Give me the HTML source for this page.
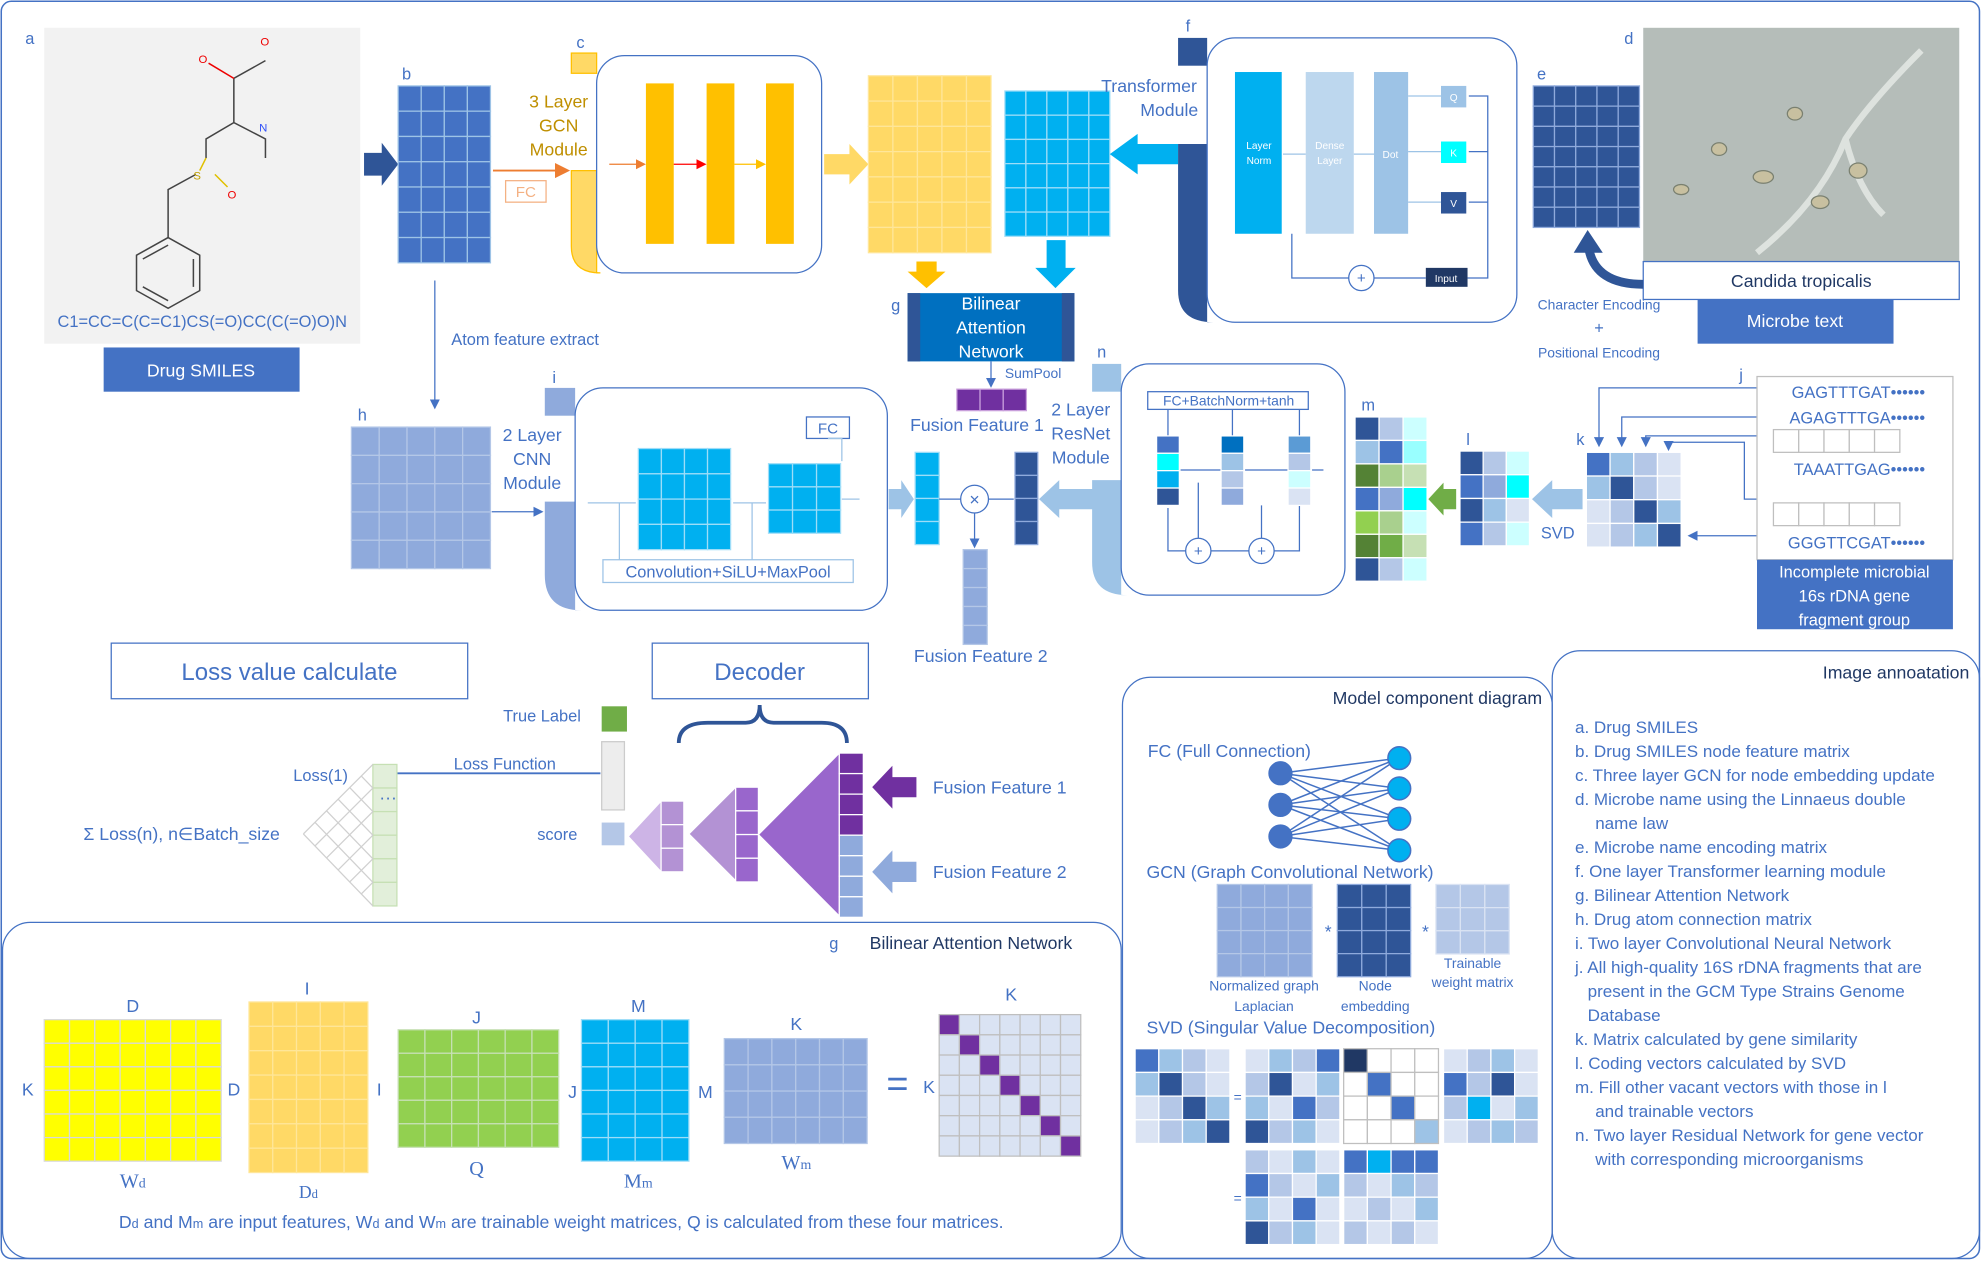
<!DOCTYPE html>
<html><head><meta charset="utf-8"><style>
html,body{margin:0;padding:0;background:#fff}
svg{display:block;font-family:"Liberation Sans",sans-serif}
text{fill:#4472c4}
</style></head><body>
<svg id="s" width="1982" height="1261" viewBox="0 0 1568 998" preserveAspectRatio="none" xmlns="http://www.w3.org/2000/svg">
<defs>
<marker id="ab" markerWidth="8" markerHeight="8" refX="6" refY="4" orient="auto"><path d="M0,0 L8,4 L0,8z" fill="#4472c4"/></marker>
<marker id="ao" markerWidth="8" markerHeight="8" refX="6" refY="4" orient="auto"><path d="M0,0 L8,4 L0,8z" fill="#ed7d31"/></marker>
<marker id="ar" markerWidth="8" markerHeight="8" refX="6" refY="4" orient="auto"><path d="M0,0 L8,4 L0,8z" fill="#ff0000"/></marker>
<marker id="ay" markerWidth="8" markerHeight="8" refX="6" refY="4" orient="auto"><path d="M0,0 L8,4 L0,8z" fill="#ffc000"/></marker>
</defs>
<rect x="1" y="1" width="1565" height="995" rx="8" fill="none" stroke="#4472c4" stroke-width="1.2"/>

<!-- panel a -->
<g>
<rect x="35" y="22" width="250" height="250" fill="#f2f2f2"/>
<g stroke="#444" stroke-width="1.2" fill="none">
<path d="M133,188 L158,202 L158,230 L133,244 L108,230 L108,202 Z M113,205 L133,194 M153,205 L153,227 M113,227 L133,238"/>
<path d="M133,188 L133,150 L155,138"/>
<path d="M163,125 L163,110 L185,97 L210,110 L210,125 M185,97 L185,62 L210,48"/>
<path d="M163,125 L158,135" stroke="#e0c000"/><path d="M170,138 L180,148" stroke="#e0c000"/><path d="M185,62 L165,50" stroke="#e00"/>
</g>
<text x="157" y="50" font-size="9" fill="#e00" style="fill:#e00">O</text><text x="206" y="36" font-size="9" style="fill:#e00">O</text>
<text x="205" y="104" font-size="9" style="fill:#3050f8">N</text><text x="153" y="142" font-size="9" style="fill:#c0a000">S</text>
<text x="180" y="157" font-size="9" style="fill:#e00">O</text>
<text x="160" y="259" font-size="13" text-anchor="middle">C1=CC=C(C=C1)CS(=O)CC(C(=O)O)N</text>
</g>
<rect x="82" y="275" width="155" height="35" fill="#4472c4"/>
<text x="159" y="298" font-size="14" text-anchor="middle" style="fill:#fff">Drug SMILES</text>

<g font-size="13">
<text x="20" y="35">a</text><text x="318" y="63">b</text><text x="456" y="38">c</text><text x="938" y="25">f</text>
<text x="1285" y="35">d</text><text x="1216" y="63">e</text><text x="705" y="246">g</text><text x="868" y="283">n</text>
<text x="437" y="303">i</text><text x="283" y="333">h</text><text x="1376" y="301">j</text><text x="1247" y="352">k</text>
<text x="1160" y="352">l</text><text x="1077" y="325">m</text>
</g>

<path d="M288,121 L302,121 L302,113 L315,130 L302,147 L302,139 L288,139z" fill="#2f5597"/>
<g id="gb"></g>
<line x1="390" y1="135" x2="448" y2="135" stroke="#ed7d31" stroke-width="1.5" marker-end="url(#ao)"/>
<rect x="400" y="143" width="32" height="17" fill="#fff" stroke="#f4b183"/>
<text x="416" y="156" font-size="12" text-anchor="middle" style="fill:#f4b183">FC</text>
<g>
<path d="M452,135 L472,135 L472,216 L475,216 Q452,216 452,195z" fill="#ffd966" stroke="#ffc000"/>
<rect x="452" y="42" width="20" height="16" fill="#ffd966" stroke="#ffc000"/>
<rect x="472" y="44" width="178" height="172" rx="22" fill="#fff" stroke="#4472c4"/>
<rect x="511" y="66" width="22" height="127" fill="#ffc000"/><rect x="559" y="66" width="22" height="127" fill="#ffc000"/><rect x="606" y="66" width="22" height="127" fill="#ffc000"/>
<line x1="482" y1="130" x2="509" y2="130" stroke="#ed7d31" marker-end="url(#ao)"/>
<line x1="533" y1="130" x2="557" y2="130" stroke="#ff0000" marker-end="url(#ar)"/>
<line x1="581" y1="130" x2="604" y2="130" stroke="#ffc000" marker-end="url(#ay)"/>
</g>
<g font-size="14" text-anchor="middle"><text x="442" y="85" style="fill:#bf8f00">3 Layer</text><text x="442" y="104" style="fill:#bf8f00">GCN</text><text x="442" y="123" style="fill:#bf8f00">Module</text></g>
<path d="M652,122 L672,122 L672,114 L687,130 L672,146 L672,138 L652,138z" fill="#ffd966"/>
<g id="gy"></g><g id="gc"></g>
<path d="M932,114 L900,114 L900,106 L878,122 L900,138 L900,130 L932,130z" fill="#00b0f0"/>
<g>
<path d="M932,114 L955,114 L955,255 L960,255 Q932,255 932,230z" fill="#2f5597"/>
<rect x="932" y="30" width="23" height="22" fill="#2f5597"/>
<rect x="955" y="30" width="245" height="225" rx="22" fill="#fff" stroke="#4472c4"/>
<rect x="977" y="57" width="37" height="128" fill="#00b0f0"/><text x="996" y="118" font-size="8" text-anchor="middle" style="fill:#fff">Layer</text><text x="996" y="130" font-size="8" text-anchor="middle" style="fill:#fff">Norm</text>
<rect x="1033" y="57" width="38" height="128" fill="#bdd7ee"/><text x="1052" y="118" font-size="8" text-anchor="middle" style="fill:#fff">Dense</text><text x="1052" y="130" font-size="8" text-anchor="middle" style="fill:#fff">Layer</text>
<rect x="1087" y="57" width="27" height="128" fill="#9dc3e6"/><text x="1100" y="125" font-size="8" text-anchor="middle" style="fill:#fff">Dot</text>
<rect x="1140" y="68" width="20" height="17" fill="#9dc3e6"/><text x="1150" y="80" font-size="8" text-anchor="middle" style="fill:#fff">Q</text>
<rect x="1140" y="112" width="20" height="17" fill="#00ffff"/><text x="1150" y="124" font-size="8" text-anchor="middle" style="fill:#fff">K</text>
<rect x="1140" y="152" width="20" height="17" fill="#2f5597"/><text x="1150" y="164" font-size="8" text-anchor="middle" style="fill:#fff">V</text>
<rect x="1128" y="212" width="33" height="15" fill="#203864"/><text x="1144" y="223" font-size="8" text-anchor="middle" style="fill:#fff">Input</text>
<circle cx="1077" cy="220" r="10" fill="#fff" stroke="#4472c4"/><text x="1077" y="224" font-size="12" text-anchor="middle">+</text>
<g stroke="#4472c4" fill="none"><path d="M1161,220 L1177,220 L1177,76 L1162,76 M1177,120 L1162,120 M1177,160 L1162,160"/><path d="M1128,220 L1087,220 M1067,220 L1022,220 L1022,185"/>
<path d="M1140,76 L1114,76 M1140,120 L1114,120 M1140,160 L1114,160 M1087,122 L1071,122 M1033,122 L1015,122" stroke="#9dc3e6"/></g>
</g>
<g font-size="14" text-anchor="middle"><text x="909" y="73">Transformer</text><text x="925" y="92">Module</text></g>
<g id="ge"></g>
<rect x="1300" y="22" width="250" height="185" fill="#b5bdb9"/>
<g stroke="#e8ece8" stroke-width="5" fill="none" opacity="0.8"><path d="M1390,200 Q1440,160 1460,110 Q1480,80 1520,40"/><path d="M1460,110 Q1470,150 1490,170"/></g>
<g fill="#c8c0a0" stroke="#7a8070"><ellipse cx="1395" cy="140" rx="8" ry="5"/><ellipse cx="1440" cy="160" rx="7" ry="5"/><ellipse cx="1360" cy="118" rx="6" ry="5"/><ellipse cx="1470" cy="135" rx="7" ry="6"/><ellipse cx="1420" cy="90" rx="6" ry="5"/><ellipse cx="1330" cy="150" rx="6" ry="4"/></g>
<rect x="1300" y="207" width="250" height="30" fill="#fff" stroke="#4472c4"/>
<text x="1425" y="227" font-size="14" text-anchor="middle" style="fill:#203864">Candida tropicalis</text>
<rect x="1343" y="237" width="155" height="35" fill="#4472c4"/>
<text x="1420" y="259" font-size="14" text-anchor="middle" style="fill:#fff">Microbe text</text>
<path d="M1300,225 Q1262,225 1257,197" stroke="#2f5597" stroke-width="7" fill="none"/><path d="M1245,200 L1256,182 L1268,200z" fill="#2f5597"/>
<g font-size="11" text-anchor="middle"><text x="1265" y="245">Character Encoding</text><text x="1265" y="264" font-size="13">+</text><text x="1265" y="283">Positional Encoding</text></g>

<path d="M725,207 L741,207 L741,215 L748,215 L733,228 L718,215 L725,215z" fill="#ffc000"/>
<path d="M828,190 L843,190 L843,212 L851,212 L835,228 L819,212 L828,212z" fill="#00b0f0"/>
<rect x="718" y="232" width="132" height="54" fill="#0070c0"/>
<rect x="718" y="232" width="10" height="54" fill="#2f5597"/><rect x="840" y="232" width="10" height="54" fill="#2f5597"/>
<g font-size="14" text-anchor="middle"><text x="784" y="245" style="fill:#fff">Bilinear</text><text x="784" y="264" style="fill:#fff">Attention</text><text x="784" y="283" style="fill:#fff">Network</text></g>
<line x1="784" y1="286" x2="784" y2="305" stroke="#4472c4" marker-end="url(#ab)"/>
<text x="795" y="299" font-size="11">SumPool</text>
<g id="gsum"></g>
<text x="720" y="341" font-size="14">Fusion Feature 1</text>

<line x1="344" y1="222" x2="344" y2="322" stroke="#4472c4" marker-end="url(#ab)"/>
<text x="357" y="273" font-size="13">Atom feature extract</text>
<g id="gh"></g>
<line x1="389" y1="405" x2="428" y2="405" stroke="#4472c4" marker-end="url(#ab)"/>
<g>
<path d="M431,397 L455,397 L455,483 L460,483 Q431,483 431,455z" fill="#8faadc"/><rect x="431" y="307" width="24" height="22" fill="#8faadc"/>
<rect x="455" y="307" width="247" height="176" rx="22" fill="#fff" stroke="#4472c4"/>
<rect x="638" y="330" width="34" height="17" fill="#fff" stroke="#4472c4"/><text x="655" y="343" font-size="12" text-anchor="middle">FC</text>
<rect x="477" y="443" width="198" height="18" fill="#fff" stroke="#9dc3e6"/><text x="576" y="457" font-size="13" text-anchor="middle">Convolution+SiLU+MaxPool</text>
<g stroke="#9dc3e6" fill="none"><path d="M465,398 L503,398 M580,398 L606,398 M666,395 L680,395 M655,347 L666,347 L666,365 M490,443 L490,398 M595,443 L595,398"/></g>
</g>
<g font-size="14" text-anchor="middle"><text x="421" y="349">2 Layer</text><text x="421" y="368">CNN</text><text x="421" y="387">Module</text></g>
<g id="gcnn"></g>
<path d="M703,387 L713,387 L713,380 L723,395 L713,410 L713,403 L703,403z" fill="#9dc3e6"/>
<g id="gf"></g>
<circle cx="771" cy="395" r="11" fill="#fff" stroke="#4472c4"/><text x="771" y="400" font-size="14" text-anchor="middle">×</text>
<line x1="743" y1="395" x2="760" y2="395" stroke="#4472c4"/><line x1="782" y1="395" x2="802" y2="395" stroke="#4472c4"/>
<line x1="771" y1="406" x2="771" y2="432" stroke="#4472c4" marker-end="url(#ab)"/>
<path d="M866,387 L838,387 L838,380 L822,395 L838,410 L838,403 L866,403z" fill="#9dc3e6"/>
<text x="723" y="524" font-size="14">Fusion Feature 2</text>
<g>
<path d="M864,380 L887,380 L887,471 L892,471 Q864,471 864,445z" fill="#9dc3e6"/><rect x="864" y="288" width="23" height="22" fill="#9dc3e6"/>
<rect x="887" y="288" width="177" height="183" rx="22" fill="#fff" stroke="#4472c4"/>
<rect x="908" y="310" width="127" height="14" fill="#fff" stroke="#4472c4"/><text x="972" y="321" font-size="11" text-anchor="middle">FC+BatchNorm+tanh</text>
<circle cx="948" cy="436" r="10" fill="#fff" stroke="#4472c4"/><text x="948" y="440" font-size="12" text-anchor="middle">+</text>
<circle cx="998" cy="436" r="10" fill="#fff" stroke="#4472c4"/><text x="998" y="440" font-size="12" text-anchor="middle">+</text>
<g stroke="#4472c4" fill="none"><path d="M1028,400 L1028,436 L1008,436 M988,436 L958,436 M938,436 L924,436 L924,402 M1028,345 L1028,324 M975,345 L975,324 M924,345 L924,324 M1019,372 L985,372 M966,372 L934,372 M1047,372 L1038,372 M948,426 L948,382 M998,426 L998,400"/></g>
</g>
<g font-size="14" text-anchor="middle"><text x="855" y="329">2 Layer</text><text x="855" y="348">ResNet</text><text x="855" y="367">Module</text></g>
<g id="gres"></g>
<path d="M1152,387 L1142,387 L1142,382 L1130,395 L1142,408 L1142,403 L1152,403z" fill="#70ad47"/>
<g id="gm"></g><g id="gl"></g>
<path d="M1252,387 L1228,387 L1228,380 L1212,395 L1228,410 L1228,403 L1252,403z" fill="#9dc3e6"/>
<text x="1219" y="426" font-size="13">SVD</text>
<g id="gk"></g>
<g stroke="#4472c4" fill="none">
<path d="M1390,307 L1265,307 L1265,352" marker-end="url(#ab)"/><path d="M1390,330 L1283,330 L1283,352" marker-end="url(#ab)"/><path d="M1390,345 L1302,345 L1302,352" marker-end="url(#ab)"/>
<path d="M1390,424 L1337,424" marker-end="url(#ab)"/><path d="M1390,395 L1380,395 L1380,350 L1320,350 L1320,355" marker-end="url(#ab)"/>
</g>
<rect x="1390" y="298" width="155" height="145" fill="#fff" stroke="#bfbfbf"/>
<g font-size="13" text-anchor="end"><text x="1523" y="315">GAGTTTGAT••••••</text><text x="1523" y="335">AGAGTTTGA••••••</text><text x="1523" y="376">TAAATTGAG••••••</text><text x="1523" y="434">GGGTTCGAT••••••</text></g>
<g id="gj"></g>
<rect x="1390" y="443" width="155" height="55" fill="#4472c4"/>
<g font-size="13" text-anchor="middle"><text x="1467" y="457" style="fill:#fff">Incomplete microbial</text><text x="1467" y="476" style="fill:#fff">16s rDNA gene</text><text x="1467" y="495" style="fill:#fff">fragment group</text></g>

<rect x="88" y="509" width="282" height="44" fill="#fff" stroke="#4472c4"/>
<text x="229" y="538" font-size="19" text-anchor="middle">Loss value calculate</text>
<rect x="516" y="509" width="171" height="44" fill="#fff" stroke="#4472c4"/>
<text x="601" y="538" font-size="19" text-anchor="middle">Decoder</text>
<path d="M537,588 Q537,572 560,572 L590,572 Q601,572 601,558 Q601,572 612,572 L650,572 Q670,572 670,588" stroke="#2f5597" stroke-width="3" fill="none"/>
<text x="398" y="571" font-size="13">True Label</text><rect x="476" y="559" width="20" height="20" fill="#70ad47"/>
<rect x="476" y="587" width="18" height="54" fill="#ededed" stroke="#ccc"/>
<text x="425" y="665" font-size="13">score</text><rect x="476" y="651" width="18" height="18" fill="#b4c7e7"/>
<line x1="475" y1="612" x2="298" y2="612" stroke="#4472c4" stroke-width="1.5" marker-end="url(#ab)"/>
<text x="359" y="609" font-size="13">Loss Function</text>
<text x="232" y="618" font-size="13">Loss(1)</text>
<text x="66" y="665" font-size="14">Σ  Loss(n), n∈Batch_size</text>
<g id="gloss"></g>
<g id="gdec"></g>
<path d="M725,615 L706,615 L706,606 L690,623 L706,640 L706,631 L725,631z" fill="#7030a0"/>
<path d="M725,682 L706,682 L706,673 L690,690 L706,707 L706,698 L725,698z" fill="#8faadc"/>
<text x="738" y="628" font-size="14">Fusion Feature 1</text><text x="738" y="695" font-size="14">Fusion Feature 2</text>

<rect x="2" y="730" width="885" height="266" rx="22" fill="none" stroke="#4472c4"/>
<text x="656" y="751" font-size="13">g</text><text x="688" y="751" font-size="14" style="fill:#203864">Bilinear Attention Network</text>
<g id="gban"></g>
<g font-size="14" text-anchor="middle">
<text x="105" y="801">D</text><text x="22" y="867">K</text><text x="105" y="940" font-size="16" font-family="Liberation Serif">W<tspan font-size="11">d</tspan></text>
<text x="243" y="787">I</text><text x="185" y="867">D</text><text x="300" y="867">I</text><text x="244" y="948" font-family="Liberation Serif">D<tspan font-size="10">d</tspan></text>
<text x="377" y="810">J</text><text x="377" y="930" font-size="16" font-family="Liberation Serif">Q</text>
<text x="505" y="801">M</text><text x="453" y="869">J</text><text x="558" y="869">M</text><text x="505" y="940" font-size="16" font-family="Liberation Serif">M<tspan font-size="11">m</tspan></text>
<text x="630" y="815">K</text><text x="630" y="925" font-size="16" font-family="Liberation Serif">W<tspan font-size="11">m</tspan></text>
<text x="710" y="868" font-size="30">=</text><text x="735" y="865">K</text><text x="800" y="792">K</text>
</g>
<text x="444" y="972" font-size="14" text-anchor="middle">D<tspan font-size="10">d</tspan> and M<tspan font-size="10">m</tspan> are input features,  W<tspan font-size="10">d</tspan> and W<tspan font-size="10">m</tspan> are trainable weight matrices, Q is calculated from these four matrices.</text>

<rect x="888" y="536" width="340" height="460" rx="22" fill="none" stroke="#4472c4"/>
<text x="1220" y="557" font-size="14" text-anchor="end" style="fill:#203864">Model component diagram</text>
<text x="908" y="599" font-size="14">FC (Full Connection)</text>
<g id="gnet" stroke="#4472c4" stroke-width="1.2"></g>
<text x="907" y="695" font-size="14">GCN (Graph Convolutional Network)</text>
<text x="1048" y="742" font-size="14">*</text><text x="1125" y="742" font-size="14">*</text>
<g font-size="11" text-anchor="middle"><text x="1000" y="784">Normalized graph</text><text x="1000" y="800">Laplacian</text><text x="1088" y="784">Node</text><text x="1088" y="800">embedding</text><text x="1165" y="766">Trainable</text><text x="1165" y="781">weight matrix</text></g>
<text x="907" y="818" font-size="14">SVD (Singular Value Decomposition)</text>
<text x="976" y="872" font-size="11">=</text><text x="976" y="952" font-size="11">=</text>
<g id="gmc"></g>

<rect x="1228" y="515" width="338" height="481" rx="22" fill="none" stroke="#4472c4"/>
<text x="1558" y="537" font-size="14" text-anchor="end" style="fill:#203864">Image annoatation</text>
<g font-size="13.5" id="ann">
<text x="1246" y="580">a. Drug SMILES</text>
<text x="1246" y="599">b. Drug SMILES node feature matrix</text>
<text x="1246" y="618">c. Three layer GCN for node embedding update</text>
<text x="1246" y="637">d. Microbe name using the Linnaeus double</text>
<text x="1262" y="656">name law</text>
<text x="1246" y="675">e. Microbe name encoding matrix</text>
<text x="1246" y="694">f. One layer Transformer learning module</text>
<text x="1246" y="713">g. Bilinear Attention Network</text>
<text x="1246" y="732">h. Drug atom connection matrix</text>
<text x="1246" y="751">i. Two layer Convolutional Neural Network</text>
<text x="1246" y="770">j. All high-quality 16S rDNA fragments that are</text>
<text x="1256" y="789">present in the GCM Type Strains Genome</text>
<text x="1256" y="808">Database</text>
<text x="1246" y="827">k. Matrix calculated by gene similarity</text>
<text x="1246" y="846">l. Coding vectors calculated by SVD</text>
<text x="1246" y="865">m. Fill other vacant vectors with those in l</text>
<text x="1262" y="884">and trainable vectors</text>
<text x="1246" y="903">n. Two layer Residual Network for gene vector</text>
<text x="1262" y="922">with corresponding microorganisms</text>
</g>
</svg>
<script>
var NS='http://www.w3.org/2000/svg';
function grid(gid,name,x,y,w,h,cols,rows,fill,line,colors){
  var g=document.getElementById(gid);
  var cw=w/cols,rh=h/rows;
  for(var r=0;r<rows;r++)for(var c=0;c<cols;c++){
    var e=document.createElementNS(NS,'rect');
    e.setAttribute('x',x+c*cw);e.setAttribute('y',y+r*rh);
    e.setAttribute('width',cw);e.setAttribute('height',rh);
    var f=fill; if(colors){f=colors[(r*cols+c)%colors.length];}
    e.setAttribute('fill',f);e.setAttribute('stroke',line||'#fff');e.setAttribute('stroke-width','1');
    
    
    g.appendChild(e);
  }
}
grid('gb','node-feature-matrix',315,68,73,140,4,7,'#4472c4','#9dc3e6');
grid('gy','gcn-output-matrix',687,60,97,140,5,7,'#ffd966','#ffe699');
grid('gc','transformer-output-matrix',795,72,83,115,5,6,'#00b0f0','#9dddf8');
grid('ge','microbe-encoding-matrix',1213,68,84,112,5,7,'#2f5597','#8faadc');
grid('gsum','sumpool-vector',757,308,55,17,3,1,'#7030a0','#c9a0dc');
grid('gh','atom-connection-matrix',278,338,110,112,5,5,'#8faadc','#b4c7e7');
grid('gcnn','cnn-feature-1',505,355,73,80,4,4,'#00b0f0','#9dddf8');
grid('gcnn','cnn-feature-2',608,367,57,55,3,3,'#00b0f0','#9dddf8');
grid('gf','drug-vector',724,358,19,73,1,4,'#00b0f0','#9dddf8');
grid('gf','gene-vector',803,358,18,73,1,4,'#2f5597','#8faadc');
grid('gf','fusion-feature-2',762,435,19,75,1,5,'#8faadc','#b4c7e7');
grid('gres','resnet-col-1',915,345,18,55,1,4,null,'#fff',['#4472c4','#00ffff','#00b0f0','#2f5597']);
grid('gres','resnet-col-2',966,345,18,55,1,4,null,'#fff',['#0070c0','#9dc3e6','#b4c7e7','#8faadc']);
grid('gres','resnet-col-3',1019,345,18,55,1,4,null,'#fff',['#5b9bd5','#b4c7e7','#ccffff','#dae3f3']);
grid('gm','filled-matrix',1072,330,57,130,3,7,null,'#fff',['#2f5597','#b4c7e7','#ccffff','#9dc3e6','#4472c4','#99ffff','#548235','#a9d08e','#c6e0b4','#4472c4','#8faadc','#00ffff','#92d050','#a9d08e','#ccffff','#548235','#70ad47','#c6e0b4','#2f5597','#b4c7e7','#ccffff']);
grid('gl','coding-vectors',1155,357,55,75,3,4,null,'#fff',['#2f5597','#b4c7e7','#ccffff','#4472c4','#8faadc','#00ffff','#2f5597','#9dc3e6','#dae3f3','#4472c4','#b4c7e7','#ccffff']);
grid('gk','similarity-matrix',1255,358,75,75,4,4,null,'#fff',['#4472c4','#9dc3e6','#b4c7e7','#dae3f3','#9dc3e6','#2f5597','#b4c7e7','#dae3f3','#dae3f3','#b4c7e7','#2f5597','#9dc3e6','#dae3f3','#b4c7e7','#9dc3e6','#2f5597']);
grid('gj','empty-row-1',1403,340,100,18,5,1,'#fff','#bfbfbf');
grid('gj','empty-row-2',1403,398,100,18,5,1,'#fff','#bfbfbf');
grid('gban','wd-matrix',35,807,140,112,7,6,'#ffff00','#d9d9d9');
grid('gban','dd-matrix',197,793,94,135,5,7,'#ffd966','#ffe699');
grid('gban','q-matrix',315,815,127,93,6,5,'#92d050','#c6e0b4');
grid('gban','mm-matrix',460,807,85,112,4,6,'#00b0f0','#9dddf8');
grid('gban','wm-matrix',573,822,113,83,6,4,'#8faadc','#b4c7e7');
var dg=[];for(var i=0;i<49;i++){dg.push(i%8===0?'#7030a0':'#dae3f3');}
grid('gban','attention-matrix',743,803,112,112,7,7,null,'#bfbfbf',dg);
grid('gmc','laplacian-matrix',963,700,75,73,4,4,'#8faadc','#b4c7e7');
grid('gmc','node-embedding',1058,700,58,73,3,4,'#2f5597','#8faadc');
grid('gmc','trainable-weight',1136,700,58,55,3,3,'#b4c7e7','#dae3f3');
var sv1=['#4472c4','#9dc3e6','#b4c7e7','#dae3f3','#9dc3e6','#2f5597','#b4c7e7','#dae3f3','#dae3f3','#b4c7e7','#2f5597','#9dc3e6','#dae3f3','#b4c7e7','#9dc3e6','#2f5597'];
grid('gmc','svd-a',898,830,75,75,4,4,null,'#fff',sv1);
grid('gmc','svd-u',985,830,75,75,4,4,null,'#fff',['#dae3f3','#9dc3e6','#b4c7e7','#4472c4','#b4c7e7','#2f5597','#dae3f3','#9dc3e6','#9dc3e6','#dae3f3','#4472c4','#b4c7e7','#2f5597','#b4c7e7','#9dc3e6','#dae3f3']);
grid('gmc','svd-s',1063,830,75,75,4,4,null,'#bfbfbf',['#203864','#fff','#fff','#fff','#fff','#4472c4','#fff','#fff','#fff','#fff','#4472c4','#fff','#fff','#fff','#fff','#9dc3e6']);
grid('gmc','svd-v',1142,830,75,75,4,4,null,'#fff',['#dae3f3','#b4c7e7','#9dc3e6','#dae3f3','#4472c4','#b4c7e7','#2f5597','#dae3f3','#b4c7e7','#00b0f0','#dae3f3','#9dc3e6','#dae3f3','#b4c7e7','#9dc3e6','#b4c7e7']);
grid('gmc','svd-coding',985,910,75,75,4,4,null,'#fff',['#b4c7e7','#dae3f3','#9dc3e6','#dae3f3','#4472c4','#b4c7e7','#dae3f3','#9dc3e6','#9dc3e6','#dae3f3','#4472c4','#dae3f3','#2f5597','#b4c7e7','#9dc3e6','#dae3f3']);
grid('gmc','svd-vector',1063,910,75,75,4,4,null,'#fff',['#4472c4','#00b0f0','#4472c4','#4472c4','#b4c7e7','#dae3f3','#9dc3e6','#b4c7e7','#dae3f3','#b4c7e7','#dae3f3','#9dc3e6','#b4c7e7','#dae3f3','#b4c7e7','#dae3f3']);
grid('gloss','loss-column',295,605,19,112,1,6,'#e2efda','#c6e0b4');
var gl=document.getElementById('gloss');
for(var k=0;k<=6;k++){
  var t=k/6;
  var pa=document.createElementNS(NS,'path');
  pa.setAttribute('d','M'+(240+55*t)+','+(660-55*t)+' L295,'+(660-55*t+57*(1-t)));
  pa.setAttribute('stroke','#d0d0d0');pa.setAttribute('fill','none');
  
  
  gl.appendChild(pa);
  var pb=document.createElementNS(NS,'path');
  pb.setAttribute('d','M'+(240+55*t)+','+(660+57*t)+' L295,'+(660+57*t-55*(1-t)));
  pb.setAttribute('stroke','#d0d0d0');pb.setAttribute('fill','none');
  
  
  gl.appendChild(pb);
}
var tl=document.createElementNS(NS,'text');tl.setAttribute('x','300');tl.setAttribute('y','636');tl.setAttribute('font-size','14');tl.textContent='···';


gl.appendChild(tl);
var gd=document.getElementById('gdec');
function tri(x1,xc,yt,yb,fill,name){
  var p=document.createElementNS(NS,'path');
  p.setAttribute('d','M'+x1+','+((yt+yb)/2)+' L'+xc+','+yt+' L'+xc+','+yb+'z');
  p.setAttribute('fill',fill);p.setAttribute('stroke','#fff');
  
  
  gd.appendChild(p);
}
tri(600,664,596,725,'#9966cc','decoder-layer-3');
tri(545,582,623,697,'#b392d4','decoder-layer-2');
tri(497,523,634,690,'#cdb4e6','decoder-layer-1');
grid('gdec','fusion-column-top',664,596,19,65,1,4,'#7030a0','#fff');
grid('gdec','fusion-column-bottom',664,661,19,65,1,4,'#8faadc','#fff');
grid('gdec','decoder-column-2',582,623,18,75,1,4,'#9966cc','#fff');
grid('gdec','decoder-column-1',523,634,18,56,1,3,'#b392d4','#fff');
var gn=document.getElementById('gnet');
var L=[612,637,662],R=[600,624,648,673];
L.forEach(function(a){R.forEach(function(b){var l=document.createElementNS(NS,'line');l.setAttribute('x1',1013);l.setAttribute('y1',a);l.setAttribute('x2',1107);l.setAttribute('y2',b);


gn.appendChild(l);});});
L.forEach(function(a){var c=document.createElementNS(NS,'circle');c.setAttribute('cx',1013);c.setAttribute('cy',a);c.setAttribute('r',9);c.setAttribute('fill','#4472c4');


gn.appendChild(c);});
R.forEach(function(a){var c=document.createElementNS(NS,'circle');c.setAttribute('cx',1107);c.setAttribute('cy',a);c.setAttribute('r',9);c.setAttribute('fill','#00b0f0');


gn.appendChild(c);});
</script>
</body></html>
